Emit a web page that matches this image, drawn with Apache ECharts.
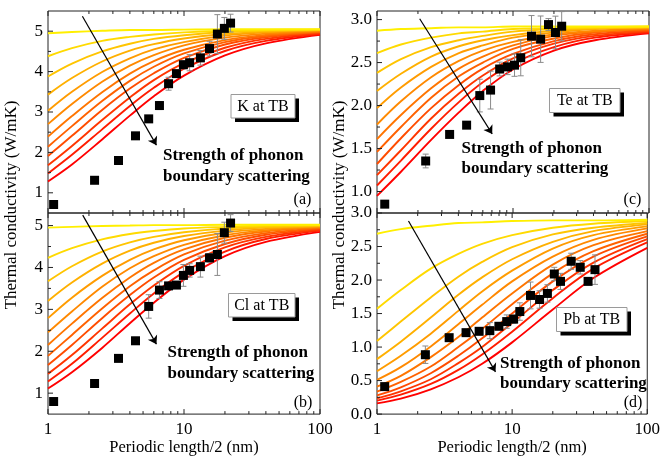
<!DOCTYPE html>
<html>
<head>
<meta charset="utf-8">
<script src="https://cdn.jsdelivr.net/npm/echarts@6/dist/echarts.min.js"></script>
<style>
html, body { margin: 0; padding: 0; background: #fff; }
#chart { width: 663px; height: 457px; }
</style>
</head>
<body>
<div id="chart"></div>
<script>
var FONT = 'Liberation Serif, serif';

var curveX = [1, 1.5, 2.5, 4, 6, 10, 20, 40, 100];

// model curves, weakest boundary scattering last (red -> yellow)
var curvesA = [
  [1.28, 1.70, 2.32, 2.91, 3.39, 3.90, 4.40, 4.70, 4.91],
  [1.48, 1.94, 2.57, 3.15, 3.60, 4.07, 4.51, 4.76, 4.93],
  [1.68, 2.16, 2.80, 3.36, 3.79, 4.21, 4.59, 4.81, 4.95],
  [1.91, 2.41, 3.05, 3.58, 3.96, 4.34, 4.67, 4.85, 4.97],
  [2.14, 2.65, 3.27, 3.77, 4.12, 4.45, 4.73, 4.88, 4.98],
  [2.39, 2.90, 3.49, 3.95, 4.26, 4.54, 4.78, 4.91, 4.99],
  [2.70, 3.20, 3.75, 4.15, 4.41, 4.65, 4.84, 4.94, 5.01],
  [3.03, 3.50, 3.99, 4.33, 4.55, 4.73, 4.89, 4.97, 5.02],
  [3.43, 3.84, 4.25, 4.52, 4.68, 4.82, 4.93, 4.99, 5.03],
  [3.88, 4.20, 4.50, 4.69, 4.81, 4.90, 4.98, 5.01, 5.04],
  [4.38, 4.58, 4.76, 4.86, 4.92, 4.97, 5.01, 5.03, 5.04],
  [4.95, 4.98, 5.01, 5.03, 5.03, 5.04, 5.05, 5.05, 5.05]
];
var curvesB = [
  [1.11, 1.50, 2.08, 2.67, 3.16, 3.71, 4.27, 4.61, 4.85],
  [1.28, 1.70, 2.32, 2.90, 3.38, 3.89, 4.38, 4.68, 4.88],
  [1.46, 1.91, 2.54, 3.12, 3.57, 4.04, 4.48, 4.73, 4.90],
  [1.67, 2.15, 2.79, 3.34, 3.76, 4.18, 4.56, 4.78, 4.92],
  [1.89, 2.39, 3.02, 3.55, 3.93, 4.31, 4.64, 4.82, 4.94],
  [2.15, 2.66, 3.27, 3.76, 4.11, 4.43, 4.71, 4.86, 4.95],
  [2.45, 2.95, 3.54, 3.98, 4.27, 4.54, 4.77, 4.89, 4.97],
  [2.79, 3.28, 3.80, 4.18, 4.43, 4.65, 4.83, 4.92, 4.98],
  [3.20, 3.64, 4.09, 4.40, 4.59, 4.75, 4.88, 4.95, 4.99],
  [3.67, 4.03, 4.38, 4.60, 4.73, 4.84, 4.93, 4.97, 5.00],
  [4.23, 4.46, 4.67, 4.80, 4.87, 4.93, 4.97, 5.00, 5.01],
  [4.95, 4.97, 4.99, 5.00, 5.01, 5.01, 5.02, 5.02, 5.02]
];
var curvesC = [
  [0.95, 1.23, 1.60, 1.92, 2.17, 2.42, 2.64, 2.76, 2.84],
  [1.07, 1.36, 1.73, 2.04, 2.27, 2.49, 2.68, 2.79, 2.85],
  [1.19, 1.48, 1.85, 2.14, 2.35, 2.55, 2.72, 2.81, 2.86],
  [1.32, 1.62, 1.97, 2.24, 2.43, 2.60, 2.75, 2.83, 2.87],
  [1.46, 1.75, 2.09, 2.34, 2.50, 2.66, 2.78, 2.85, 2.88],
  [1.61, 1.89, 2.20, 2.43, 2.57, 2.70, 2.81, 2.86, 2.89],
  [1.78, 2.05, 2.33, 2.52, 2.64, 2.74, 2.83, 2.87, 2.90],
  [1.97, 2.21, 2.45, 2.61, 2.70, 2.79, 2.85, 2.89, 2.91],
  [2.17, 2.37, 2.57, 2.69, 2.76, 2.82, 2.87, 2.90, 2.91],
  [2.38, 2.54, 2.68, 2.76, 2.81, 2.86, 2.89, 2.90, 2.91],
  [2.61, 2.71, 2.79, 2.84, 2.86, 2.89, 2.90, 2.91, 2.92],
  [2.87, 2.89, 2.90, 2.91, 2.91, 2.92, 2.92, 2.92, 2.92]
];
var curvesD = [
  [0.16, 0.23, 0.37, 0.55, 0.75, 1.07, 1.56, 2.03, 2.48],
  [0.20, 0.29, 0.45, 0.66, 0.89, 1.23, 1.73, 2.17, 2.56],
  [0.235, 0.34, 0.52, 0.76, 1.00, 1.36, 1.85, 2.26, 2.61],
  [0.28, 0.40, 0.61, 0.87, 1.13, 1.50, 1.98, 2.35, 2.65],
  [0.335, 0.48, 0.71, 1.00, 1.27, 1.64, 2.10, 2.43, 2.69],
  [0.41, 0.57, 0.85, 1.15, 1.44, 1.80, 2.23, 2.52, 2.73],
  [0.51, 0.70, 1.01, 1.34, 1.63, 1.98, 2.35, 2.60, 2.77],
  [0.64, 0.87, 1.20, 1.54, 1.83, 2.14, 2.47, 2.67, 2.80],
  [0.82, 1.08, 1.44, 1.78, 2.04, 2.31, 2.57, 2.73, 2.83],
  [1.09, 1.38, 1.74, 2.05, 2.27, 2.49, 2.68, 2.78, 2.85],
  [1.57, 1.85, 2.17, 2.39, 2.54, 2.67, 2.78, 2.84, 2.88],
  [2.69, 2.76, 2.81, 2.85, 2.86, 2.88, 2.89, 2.89, 2.90]
];
var curveColors = ['#ff0000', '#ff1c00', '#ff3500', '#ff4c00', '#ff6100', '#ff7500',
  '#ff8900', '#ff9c00', '#ffb000', '#ffc500', '#ffda00', '#ffef00'];

// measured points
var pointXAB = [1.1, 2.2, 3.3, 4.4, 5.5, 6.6, 7.7, 8.8, 9.9, 11, 13.2, 15.4, 17.6, 19.8, 22];
var kA = [0.71, 1.31, 1.80, 2.41, 2.83, 3.16, 3.70, 3.95, 4.17, 4.22, 4.34, 4.57, 4.93, 5.07, 5.20];
var errA = [0.03, 0.04, 0.06, 0.05, 0.05, 0.1, 0.16, 0.08, 0.1, 0.2, 0.18, 0.18, 0.48, 0.27, 0.22];
var kB = [0.80, 1.23, 1.83, 2.25, 3.07, 3.46, 3.56, 3.58, 3.81, 3.93, 4.02, 4.23, 4.31, 4.83, 5.06];
var errB = [0.03, 0.04, 0.06, 0.08, 0.28, 0.2, 0.05, 0.05, 0.26, 0.16, 0.25, 0.1, 0.5, 0.25, 0.2];
var pointXC = [1.14, 2.28, 3.42, 4.56, 5.7, 6.84, 7.98, 9.12, 10.26, 11.4, 13.68, 15.96, 18.24, 20.52, 22.8];
var kC = [0.853, 1.355, 1.664, 1.772, 2.116, 2.18, 2.425, 2.45, 2.47, 2.556, 2.807, 2.772, 2.942, 2.85, 2.923];
var errC = [0.02, 0.08, 0.02, 0.02, 0.19, 0.22, 0.08, 0.09, 0.13, 0.21, 0.24, 0.27, 0.07, 0.19, 0.17];
var pointXD = [1.14, 2.28, 3.42, 4.56, 5.7, 6.84, 7.98, 9.12, 10.26, 11.4, 13.68, 15.96, 18.24, 20.52,
  22.8, 27.36, 31.92, 36.48, 41.04];
var kD = [0.41, 0.886, 1.14, 1.215, 1.235, 1.245, 1.31, 1.38, 1.417, 1.53, 1.77, 1.71, 1.80, 2.09,
  1.98, 2.28, 2.19, 1.98, 2.155];
var errD = [0.02, 0.13, 0.03, 0.03, 0.04, 0.12, 0.05, 0.1, 0.06, 0.13, 0.2, 0.13, 0.13, 0.1,
  0.12, 0.12, 0.1, 0.05, 0.22];

// tick values
var xMajor = [1, 10, 100];
var xMinor = [2, 3, 4, 5, 6, 7, 8, 9, 20, 30, 40, 50, 60, 70, 80, 90];
var yMajorAB = [1, 2, 3, 4, 5];
var yMinorAB = [1.5, 2.5, 3.5, 4.5];
var yMajorC = [1.0, 1.5, 2.0, 2.5, 3.0];
var yMinorC = [1.25, 1.75, 2.25, 2.75];
var yMajorD = [0, 0.5, 1.0, 1.5, 2.0, 2.5, 3.0];
var yMinorD = [0.25, 0.75, 1.25, 1.75, 2.25, 2.75];

// arrows (data coords)
var arrowA = [[1.79, 5.37], [6.27, 2.18]];
var arrowB = [[1.80, 5.25], [6.27, 2.17]];
var arrowC = [[2.06, 3.01], [7.03, 1.67]];
var arrowD = [[1.71, 2.88], [7.53, 0.63]];

var labelsPanel = ['(a)', '(b)', '(c)', '(d)'];
var labelsBox = ['K at TB', 'Cl at TB', 'Te at TB', 'Pb at TB'];

function intLabel(v) {
  return Math.abs(v - Math.round(v)) < 1e-6 ? String(Math.round(v)) : '';
}
function halfLabel(v) {
  return Math.abs(v * 2 - Math.round(v * 2)) < 1e-6 ? v.toFixed(1) : '';
}

var panels = [
  {grid: {left: 48, top: 11, width: 272, height: 202}, yMin: 0.5, yMax: 5.5, step: 0.5, fmt: intLabel,
    px: pointXAB, py: kA, pe: errA, curves: curvesA, arrow: arrowA, yMajor: yMajorAB, yMinor: yMinorAB, bottom: false},
  {grid: {left: 48, top: 213, width: 272, height: 204}, yMin: 0.5, yMax: 5.3, step: 0.5, fmt: intLabel,
    px: pointXAB, py: kB, pe: errB, curves: curvesB, arrow: arrowB, yMajor: yMajorAB, yMinor: yMinorAB, bottom: true},
  {grid: {left: 377, top: 11, width: 272, height: 202}, yMin: 0.75, yMax: 3.1, step: 0.25, fmt: halfLabel,
    px: pointXC, py: kC, pe: errC, curves: curvesC, arrow: arrowC, yMajor: yMajorC, yMinor: yMinorC, bottom: false},
  {grid: {left: 377, top: 213, width: 272, height: 204}, yMin: 0, yMax: 3.0, step: 0.5, fmt: halfLabel,
    px: pointXD, py: kD, pe: errD, curves: curvesD, arrow: arrowD, yMajor: yMajorD, yMinor: yMinorD, bottom: true}
];

function lineEl(x1, y1, x2, y2, color, w) {
  return {type: 'line', shape: {x1: x1, y1: y1, x2: x2, y2: y2}, style: {stroke: color, lineWidth: w}};
}

function renderErr(params, api) {
  var x = api.value(0), y = api.value(1), e = api.value(2);
  var lo = api.coord([x, y - e]);
  var hi = api.coord([x, y + e]);
  var c = '#8a8a8a';
  return {type: 'group', children: [
    lineEl(lo[0], lo[1], hi[0], hi[1], c, 1),
    lineEl(lo[0] - 3, lo[1], lo[0] + 3, lo[1], c, 1),
    lineEl(hi[0] - 3, hi[1], hi[0] + 3, hi[1], c, 1)
  ]};
}

function tickRenderer(p) {
  return function (params, api) {
    var kind = api.value(2);
    var len = kind % 2 === 0 ? 5 : 3;
    if (kind < 2) {
      var v = api.value(0);
      var b = api.coord([v, p.yMin]);
      var t = api.coord([v, p.yMax]);
      return {type: 'group', children: [
        lineEl(b[0], b[1], b[0], b[1] - len, '#222', 1),
        lineEl(t[0], t[1], t[0], t[1] + len, '#222', 1)
      ]};
    }
    var l = api.coord([1, api.value(1)]);
    return lineEl(l[0], l[1], l[0] + len, l[1], '#222', 1);
  };
}

var grids = [], xAxes = [], yAxes = [], series = [];

panels.forEach(function (p, i) {
  grids.push(Object.assign({show: true, borderColor: '#222', borderWidth: 1, backgroundColor: 'transparent'}, p.grid));

  xAxes.push({
    type: 'log', logBase: 10, min: 1, max: 100, gridIndex: i,
    axisLine: {show: false}, axisTick: {show: false}, splitLine: {show: false},
    axisLabel: {show: p.bottom, color: '#000', fontSize: 17, fontFamily: FONT, margin: 7},
    name: p.bottom ? 'Periodic length/2 (nm)' : '',
    nameLocation: 'middle', nameGap: 24,
    nameTextStyle: {color: '#000', fontSize: 16.5, fontFamily: FONT}
  });

  yAxes.push({
    type: 'value', min: p.yMin, max: p.yMax, interval: p.step, gridIndex: i,
    axisLine: {show: false}, axisTick: {show: false}, splitLine: {show: false},
    axisLabel: {color: '#000', fontSize: 17, fontFamily: FONT, margin: 5, formatter: p.fmt}
  });

  p.curves.forEach(function (ys, j) {
    series.push({
      type: 'line', xAxisIndex: i, yAxisIndex: i, showSymbol: false, silent: true,
      smooth: 0.35, z: 2,
      lineStyle: {color: curveColors[j], width: 1.9},
      data: curveX.map(function (x, k) { return [x, ys[k]]; })
    });
  });

  series.push({
    type: 'custom', xAxisIndex: i, yAxisIndex: i, z: 3, silent: true,
    renderItem: renderErr,
    data: p.px.map(function (x, k) { return [x, p.py[k], p.pe[k]]; })
  });

  series.push({
    type: 'scatter', xAxisIndex: i, yAxisIndex: i, z: 4, silent: true,
    symbol: 'rect', symbolSize: 9,
    itemStyle: {color: '#000', opacity: 1},
    data: p.px.map(function (x, k) { return [x, p.py[k]]; })
  });

  var ticks = [];
  xMajor.forEach(function (v) { ticks.push([v, p.yMin, 0]); });
  xMinor.forEach(function (v) { ticks.push([v, p.yMin, 1]); });
  p.yMajor.forEach(function (v) { ticks.push([1, v, 2]); });
  p.yMinor.forEach(function (v) { ticks.push([1, v, 3]); });
  series.push({
    type: 'custom', xAxisIndex: i, yAxisIndex: i, z: 5, silent: true, clip: false,
    renderItem: tickRenderer(p), data: ticks
  });

  series.push({
    type: 'line', xAxisIndex: i, yAxisIndex: i, data: [], silent: true, z: 6,
    markLine: {
      silent: true, animation: false,
      symbol: ['none', 'arrow'], symbolSize: 8,
      label: {show: false},
      lineStyle: {color: '#000', width: 1.2, type: 'solid'},
      data: [[{coord: p.arrow[0]}, {coord: p.arrow[1]}]]
    }
  });
});

function textStyle(s, size, align, bold) {
  return {text: s, fill: '#000', fontSize: size, fontFamily: FONT, fontWeight: bold ? 'bold' : 'normal',
    align: align, verticalAlign: 'middle'};
}

function box(x, y, w, h, s) {
  return [
    {type: 'rect', z: 98, shape: {x: x + 4, y: y + 4, width: w, height: h}, style: {fill: '#000'}},
    {type: 'rect', z: 99, shape: {x: x, y: y, width: w, height: h}, style: {fill: '#fff', stroke: '#9a9a9a', lineWidth: 1}},
    {type: 'text', z: 100, x: x + w / 2, y: y + h / 2 + 0.5, style: textStyle(s, 16, 'center')}
  ];
}

function note(x, y) {
  return [
    {type: 'text', x: x, y: y, z: 100, style: textStyle('Strength of phonon', 17, 'left', true)},
    {type: 'text', x: x, y: y + 20.5, z: 100, style: textStyle('boundary scattering', 17, 'left', true)}
  ];
}

var graphics = [].concat(
  note(163, 156), note(167.5, 353), note(461.5, 148.5), note(500, 363.5),
  box(231, 94.5, 64, 23.5, labelsBox[0]),
  box(228.5, 293.5, 66.5, 23.5, labelsBox[1]),
  box(549.5, 88.5, 70.5, 24, labelsBox[2]),
  box(556.5, 307.5, 70.5, 24, labelsBox[3]),
  [
    {type: 'text', x: 302.5, y: 200, z: 100, style: textStyle(labelsPanel[0], 16, 'center')},
    {type: 'text', x: 303, y: 403, z: 100, style: textStyle(labelsPanel[1], 16, 'center')},
    {type: 'text', x: 632.5, y: 200, z: 100, style: textStyle(labelsPanel[2], 16, 'center')},
    {type: 'text', x: 633, y: 403, z: 100, style: textStyle(labelsPanel[3], 16, 'center')},
    {type: 'text', x: 12, y: 205, rotation: Math.PI / 2, z: 100,
      style: textStyle('Thermal conductivity (W/mK)', 17, 'center')},
    {type: 'text', x: 340, y: 205, rotation: Math.PI / 2, z: 100,
      style: textStyle('Thermal conductivity (W/mK)', 17, 'center')}
  ]
);

var chart = echarts.init(document.getElementById('chart'));
chart.setOption({
  animation: false,
  backgroundColor: '#fff',
  grid: grids,
  xAxis: xAxes,
  yAxis: yAxes,
  series: series,
  graphic: graphics
});
</script>
</body>
</html>
